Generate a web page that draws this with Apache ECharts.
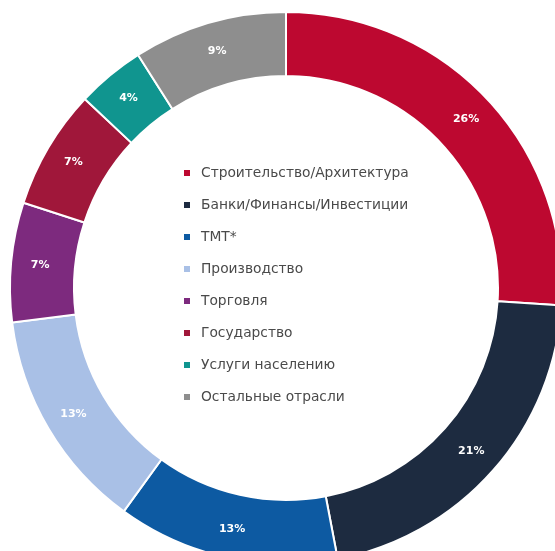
<!DOCTYPE html>
<html><head><meta charset="utf-8">
<script src="https://cdn.jsdelivr.net/npm/echarts@6/dist/echarts.min.js"></script>
<style>html,body{margin:0;padding:0;background:#fff}#c{width:555px;height:551px}</style>
</head><body><div id="c"></div>
<script>
const categories = ['Строительство/Архитектура','Банки/Финансы/Инвестиции','ТМТ*','Производство','Торговля','Государство','Услуги населению','Остальные отрасли'];
const values = [26, 21, 13, 13, 7, 7, 4, 9];
const colors = ['#bd0830','#1d2b40','#0d5aa2','#a9c0e6','#7d2a7e','#a0173a','#10958f','#8e8e8e'];
const chart = echarts.init(document.getElementById('c'));
chart.setOption({
  animation:false,
  color: colors,
  legend:{
    orient:'vertical', left:177, top:161, itemWidth:8, itemHeight:8, itemGap:18,
    icon:'rect',
    textStyle:{fontFamily:'DejaVu Sans', fontSize:13.8, lineHeight:14, color:'#4a4a4a', padding:[0,0,0,5]},
    data: categories
  },
  series:[{
    type:'pie', radius:[212,276], center:[286,288], startAngle:90, clockwise:true,
    itemStyle:{borderColor:'#fff', borderWidth:2},
    label:{position:'inside', formatter:'{c}%', color:'#fff', fontFamily:'DejaVu Sans', fontWeight:'bold', fontSize:11},
    labelLine:{show:false},
    data: categories.map((n,i)=>({name:n, value:values[i]}))
  }]
});
</script></body></html>
